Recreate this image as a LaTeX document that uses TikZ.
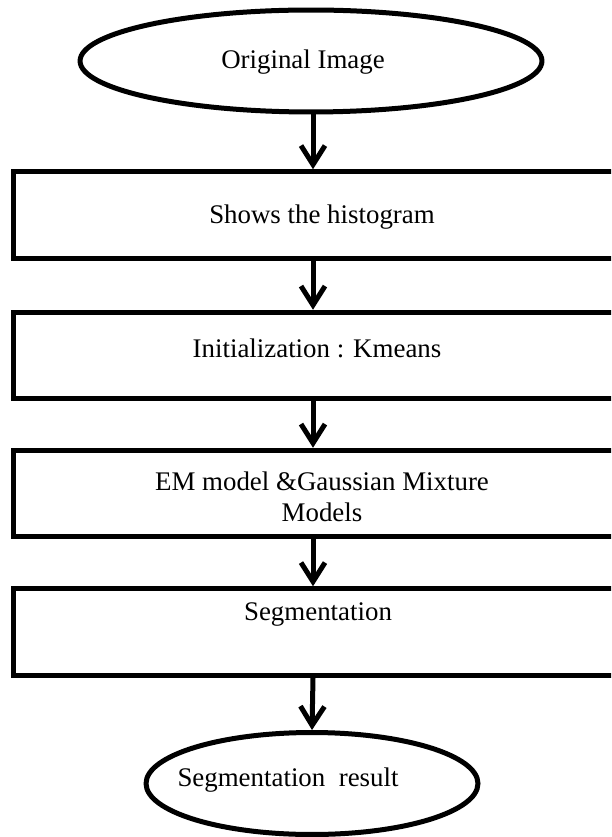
\documentclass[tikz,border=0pt]{standalone}
\usepackage{fontspec}
\setmainfont{Liberation Serif}
\usetikzlibrary{shapes.geometric,arrows.meta}

\begin{document}
\begin{tikzpicture}[x=0.02cm,y=-0.02cm,line width=0.1cm,
        oval/.style={draw,ellipse,minimum width=#1,minimum height=2.04cm,inner sep=0pt},
        stage/.style={draw,rectangle,minimum width=12.36cm,minimum height=1.73cm,inner sep=0pt},
        txt/.style={font=\fontsize{15.3}{17.6}\selectfont,align=center,inner sep=0pt},
        flow/.style={-{Straight Barb[length=3.8mm,width=4.8mm]}}]
                    \clip (0,0) rectangle (611,837);

                    % shapes
                    \node[oval=9.24cm] (orig) at (311,61) {};
                    \node[stage] (hist) at (322,215) {};
                    \node[stage] (init) at (322,355.5) {};
                    \node[stage] (em) at (322,493.5) {};
                    \node[stage] (seg) at (322,632) {};
                    \node[oval=6.64cm] (res) at (312,783.5) {};

                    % texts
                    \node[txt] (orig-t) at (303,62) {Original Image};
                    \node[txt] (hist-t) at (322,217) {Shows the histogram};
                    \node[txt] (init-t) at (317,348) {Initialization : Kmeans};
                    \node[txt] (em-t) at (322,497) {EM model \&Gaussian Mixture\\Models};
                    \node[txt] (seg-t) at (318,614) {Segmentation};
                    \node[txt] (res-t) at (288,780) {Segmentation\ \ result};

                    % arrows
                    \coordinate (spine) at (313,0);
                    \draw[flow] (spine |- orig.south) -- (spine |- hist.north);
                    \draw[flow] (spine |- hist.south) -- (spine |- init.north);
                    \draw[flow] (spine |- init.south) -- (spine |- em.north);
                    \draw[flow] (spine |- em.south) -- (spine |- seg.north);
                    \draw[flow] (spine |- seg.south) -- (res.north);
                \end{tikzpicture}
\end{document}
